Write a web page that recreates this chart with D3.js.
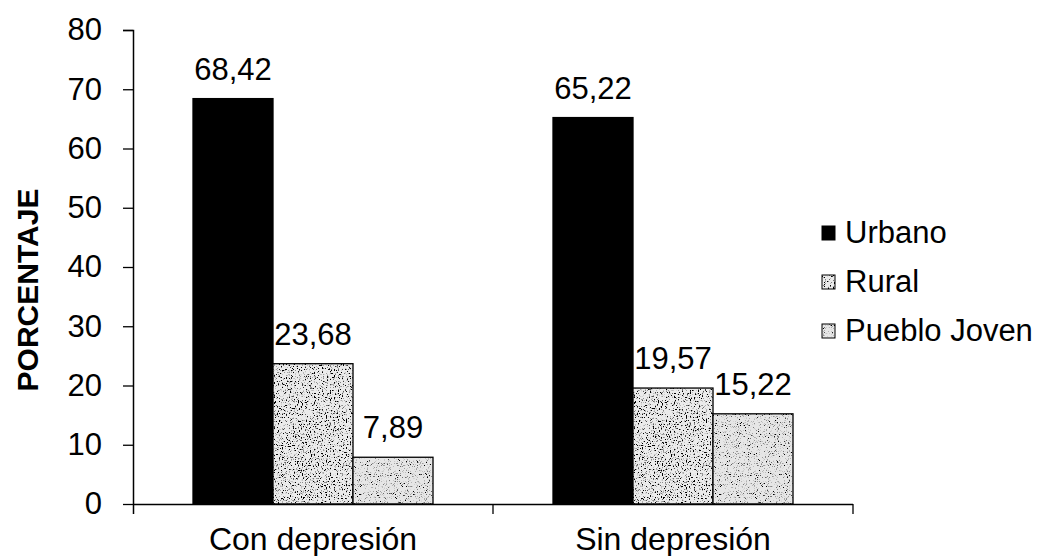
<!DOCTYPE html>
<html><head><meta charset="utf-8">
<script src="https://cdn.jsdelivr.net/npm/d3@7"></script>
<style>body{margin:0;background:#fff}svg{display:block}text{font-family:"Liberation Sans",Arial,sans-serif}</style>
</head><body>
<svg id="c" width="1045" height="556"></svg>
<script>
const categories = ["Con depresión", "Sin depresión"];
const seriesNames = ["Urbano", "Rural", "Pueblo Joven"];
const urbano = [68.42, 65.22];
const rural = [23.68, 19.57];
const puebloJoven = [7.89, 15.22];
const yTicks = [0, 10, 20, 30, 40, 50, 60, 70, 80];
const seriesValues = [urbano, rural, puebloJoven];

const FONT = '"Liberation Sans",Arial,sans-serif';
const svg = d3.select("#c");
const defs = svg.append("defs");

function stipple(id, base, seed, freq, thr, cut) {
  const f = defs.append("filter").attr("id", id).attr("x", 0).attr("y", 0).attr("width", 1).attr("height", 1);
  f.append("feFlood").attr("flood-color", base).attr("result", "bg");
  f.append("feTurbulence").attr("type", "fractalNoise").attr("baseFrequency", freq).attr("numOctaves", 2).attr("seed", seed).attr("result", "n");
  f.append("feColorMatrix").attr("in", "n").attr("type", "matrix")
    .attr("values", `0 0 0 0 0  0 0 0 0 0  0 0 0 0 0  -${thr} 0 0 0 ${thr*cut}`).attr("result", "dots");
  f.append("feMerge").call(m => { m.append("feMergeNode").attr("in", "bg"); m.append("feMergeNode").attr("in", "dots"); });
  f.append("feComposite").attr("in2", "SourceGraphic").attr("operator", "in");
}
stipple("rurf", "#ebebeb", 3, 0.75, 8, 0.44);
stipple("pjf", "#e6e6e6", 7, 0.9, 6, 0.42);
const filters = [null, "url(#rurf)", "url(#pjf)"];

const x0 = d3.scaleBand().domain(categories).range([133, 853]).padding(0);
const x1 = d3.scaleBand().domain(seriesNames).range([0, x0.bandwidth()]).paddingInner(0).paddingOuter(0.75);
const y = d3.scaleLinear().domain([0, 80]).range([504, 30]);

// bars
categories.forEach((c, ci) => {
  const g = svg.append("g").attr("transform", `translate(${x0(c)},0)`);
  seriesNames.forEach((s, si) => {
    const v = seriesValues[si][ci];
    const r = g.append("rect")
      .attr("x", x1(s)).attr("width", x1.bandwidth())
      .attr("y", y(v)).attr("height", y(0) - y(v))
      .attr("fill", si === 0 ? "#000" : "#fff");
    if (filters[si]) r.attr("filter", filters[si]);
    g.append("rect").attr("x", x1(s)).attr("width", x1.bandwidth())
      .attr("y", y(v)).attr("height", y(0) - y(v)).attr("fill", "none").attr("stroke", "#000").attr("stroke-width", 1.3);
    g.append("text").attr("x", x1(s) + x1.bandwidth() / 2).attr("y", y(v) - 19)
      .attr("text-anchor", "middle").attr("font-size", 31).text(d3.format(".2f")(v).replace(".", ","));
  });
});

// y axis
const yAxis = d3.axisLeft(y).tickValues(yTicks).tickSize(10).tickPadding(21).tickFormat(d3.format("d"));
const ya = svg.append("g").attr("transform", "translate(133,0)").call(yAxis);
ya.select(".domain").attr("d", "M-10,30.5H0.5V514").attr("stroke", "#000").attr("stroke-width", 1.5);
ya.selectAll("text").attr("font-size", 31).attr("font-family", FONT).attr("fill", "#000");
ya.selectAll("line").attr("stroke", "#000").attr("stroke-width", 1.3);

// x axis
const xAxis = d3.axisBottom(x0).tickSize(0).tickPadding(23);
const xa = svg.append("g").attr("transform", "translate(0,504)").call(xAxis);
xa.select(".domain").attr("d", "M133,0.5H853").attr("stroke", "#000").attr("stroke-width", 1.5);
xa.selectAll("text").attr("font-size", 32).attr("font-family", FONT).attr("fill", "#000");
[493, 853].forEach(xx => xa.append("line").attr("x1", xx).attr("x2", xx).attr("y1", 0).attr("y2", 10).attr("stroke", "#000").attr("stroke-width", 1.3));

// y label
svg.append("text").attr("transform", "translate(38,290) rotate(-90)").attr("text-anchor", "middle")
  .attr("font-size", 30).attr("font-weight", "bold").text("PORCENTAJE");

// legend
const legBase = [243, 292, 341];
seriesNames.forEach((s, i) => {
  svg.append("rect").attr("x", 822).attr("y", legBase[i] - 17).attr("width", 13).attr("height", 14)
    .attr("fill", i === 0 ? "#000" : "#fff").attr("stroke", "#000").attr("stroke-width", 1)
    .attr("filter", filters[i]);
  if (i > 0) svg.append("rect").attr("x", 822).attr("y", legBase[i] - 17).attr("width", 13).attr("height", 14)
    .attr("fill", "none").attr("stroke", "#000").attr("stroke-width", 1);
  svg.append("text").attr("x", 845).attr("y", legBase[i]).attr("font-size", 31).text(s);
});
</script>
</body></html>
